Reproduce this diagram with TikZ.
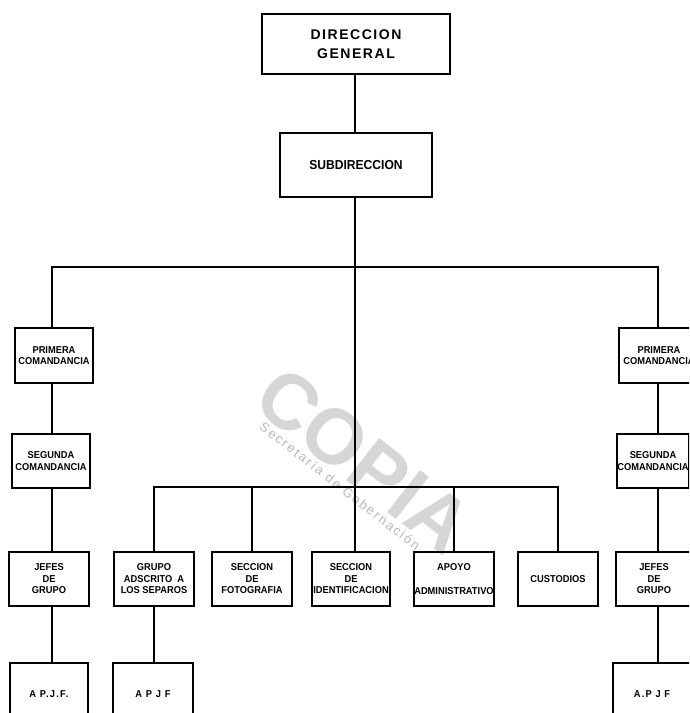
\documentclass[tikz,border=0pt]{standalone}
\usepackage{fontspec}
\setmainfont{Liberation Sans}
\newfontfamily\dgfamily[LetterSpace=11]{Liberation Sans}
\newfontfamily\boxfamily[FakeStretch=0.93]{Liberation Sans}
\newfontfamily\apjffamily[LetterSpace=12,FakeStretch=0.93]{Liberation Sans}
\newfontfamily\wmfamily[LetterSpace=15]{Liberation Sans}
\begin{document}
\begin{tikzpicture}[x=1pt,y=-1pt,
  line width=1.3pt,
  box/.style={draw, line width=1.3pt, minimum width=80pt, minimum height=54pt,
    inner sep=0pt, align=center, font=\fontsize{10}{11.5}\selectfont\boxfamily\bfseries},
  apjf/.style={box, minimum height=62pt, font=\fontsize{10}{11.5}\selectfont\apjffamily\bfseries},
  topbox/.style={draw, line width=1.3pt, inner sep=0pt, align=center},
  conn/.style={draw, line width=1.3pt},
  wmbig/.style={text=gray!32, font=\fontsize{78}{78}\selectfont\bfseries, rotate=-38, inner sep=0pt},
  wmsmall/.style={text=gray!55, font=\fontsize{13}{13}\selectfont\wmfamily, rotate=-38, inner sep=0pt}]
\useasboundingbox (0,0) rectangle (689,713);
\clip (0,0) rectangle (689,713);
\fill[white] (0,0) rectangle (689,713);

% watermark
\node[wmbig] (wm) at (364,460) {COPIA};
\node[wmsmall] (wms) at (340,486) {Secretaría de Gobernación};

% helper coordinates
\coordinate (bar) at (0,267);
\coordinate (mbar) at (0,487);
\coordinate (lx) at (52,0);
\coordinate (rx) at (658,0);
\coordinate (cx) at (355,0);

% top
\node[topbox, minimum width=188pt, minimum height=60pt,
  font=\fontsize{14}{19}\selectfont\bfseries\dgfamily] (dg) at (356,44) {DIRECCION\\GENERAL};
\node[topbox, minimum width=152pt, minimum height=64pt,
  font=\fontsize{13}{14}\selectfont\boxfamily\bfseries] (sub) at (356,165) {SUBDIRECCION};

% left column
\node[box, minimum width=78pt, minimum height=55pt] (lp1) at (54,355.5) {PRIMERA\\COMANDANCIA};
\node[box, minimum width=78pt] (lp2) at (51,461) {SEGUNDA\\COMANDANCIA};
\node[box] (lj) at (49,579) {JEFES\\DE\\GRUPO};
\node[apjf, minimum width=78pt] (la) at (49,694) {A P.J.F.};

% middle row
\node[box] (g1) at (154,579) {GRUPO\\ADSCRITO\enspace A\\LOS SEPAROS};
\node[box] (g2) at (252,579) {SECCION\\DE\\FOTOGRAFIA};
\node[box, minimum width=78pt] (g3) at (351,579) {SECCION\\DE\\IDENTIFICACION};
\node[box] (g4) at (454,579) {APOYO\\[12pt]ADMINISTRATIVO};
\node[box] (g5) at (558,579) {CUSTODIOS};
\node[apjf] (ma) at (153,694) {A P J F};

% right column
\node[box, minimum height=55pt] (rp1) at (659,355.5) {PRIMERA\\COMANDANCIA};
\node[box, minimum width=72pt] (rp2) at (653,461) {SEGUNDA\\COMANDANCIA};
\node[box, minimum width=76pt] (rj) at (654,579) {JEFES\\DE\\GRUPO};
\node[apjf, minimum width=78pt] (ra) at (652,694) {A.P J F};

% connectors
\draw[conn] (dg.south -| cx) -- (sub.north -| cx);
\draw[conn] (sub.south -| cx) -- (g3.north -| cx);
\draw[conn] (lp1.north -| lx) -- (lx |- bar) -- (rx |- bar) -- (rp1.north -| rx);
\draw[conn] (lp1.south -| lx) -- (lp2.north -| lx);
\draw[conn] (lp2.south -| lx) -- (lj.north -| lx);
\draw[conn] (lj.south -| lx) -- (la.north -| lx);
\draw[conn] (rp1.south -| rx) -- (rp2.north -| rx);
\draw[conn] (rp2.south -| rx) -- (rj.north -| rx);
\draw[conn] (rj.south -| rx) -- (ra.north -| rx);
\draw[conn] (g1.north) -- (g1.north |- mbar) -- (g5.north |- mbar) -- (g5.north);
\draw[conn] (g2.north) -- (g2.north |- mbar);
\draw[conn] (g4.north) -- (g4.north |- mbar);
\draw[conn] (g1.south) -- (g1.south |- ma.north);
\end{tikzpicture}
\end{document}
